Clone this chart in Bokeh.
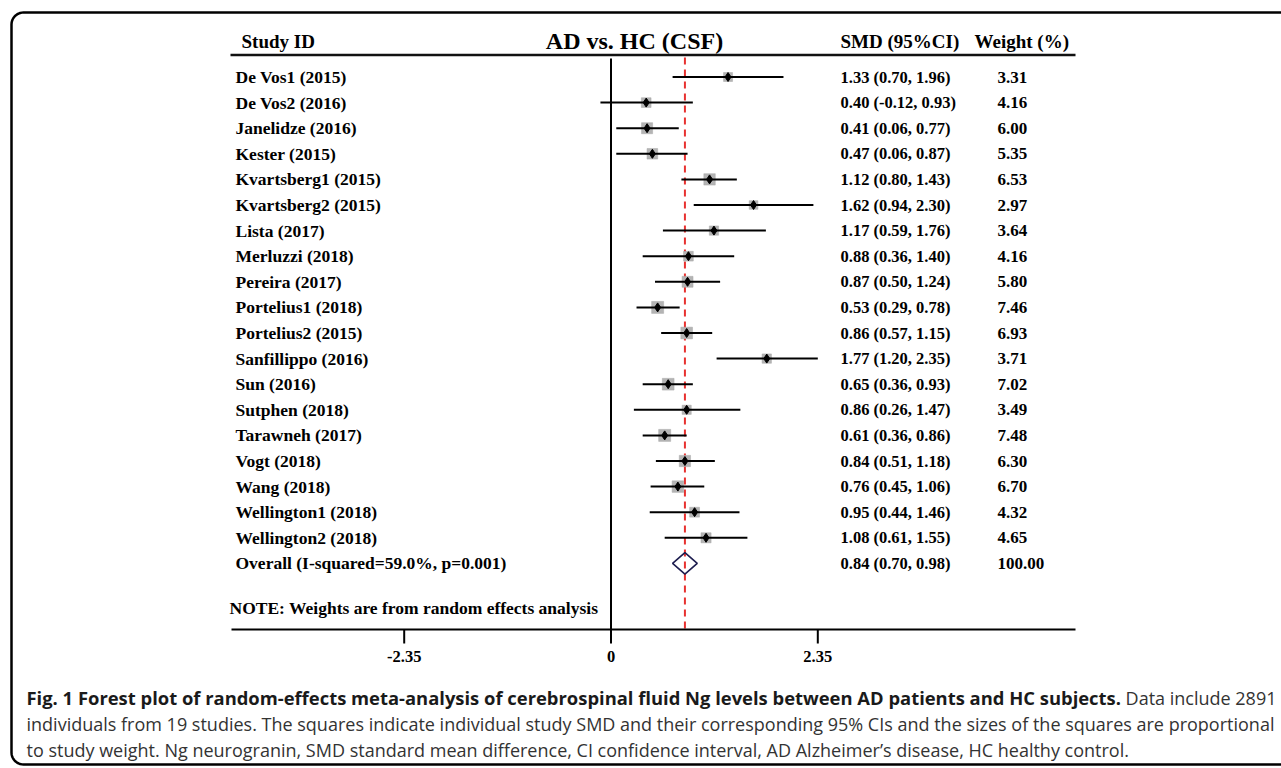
import numpy as np
from bokeh.plotting import figure
from bokeh.models import Range1d, ColumnDataSource
from bokeh.core.properties import value
from bokeh.embed import file_html
from bokeh.resources import INLINE

# ---------------- data ----------------
studies = ["De Vos1 (2015)", "De Vos2 (2016)", "Janelidze (2016)", "Kester (2015)",
           "Kvartsberg1 (2015)", "Kvartsberg2 (2015)", "Lista (2017)", "Merluzzi (2018)",
           "Pereira (2017)", "Portelius1 (2018)", "Portelius2 (2015)", "Sanfillippo (2016)",
           "Sun (2016)", "Sutphen (2018)", "Tarawneh (2017)", "Vogt (2018)", "Wang (2018)",
           "Wellington1 (2018)", "Wellington2 (2018)"]
smd = [1.33, 0.40, 0.41, 0.47, 1.12, 1.62, 1.17, 0.88, 0.87, 0.53, 0.86, 1.77,
       0.65, 0.86, 0.61, 0.84, 0.76, 0.95, 1.08]
ci_low = [0.70, -0.12, 0.06, 0.06, 0.80, 0.94, 0.59, 0.36, 0.50, 0.29, 0.57, 1.20,
          0.36, 0.26, 0.36, 0.51, 0.45, 0.44, 0.61]
ci_high = [1.96, 0.93, 0.77, 0.87, 1.43, 2.30, 1.76, 1.40, 1.24, 0.78, 1.15, 2.35,
           0.93, 1.47, 0.86, 1.18, 1.06, 1.46, 1.55]
weights = [3.31, 4.16, 6.00, 5.35, 6.53, 2.97, 3.64, 4.16, 5.80, 7.46, 6.93, 3.71,
           7.02, 3.49, 7.48, 6.30, 6.70, 4.32, 4.65]

overall_label = "Overall (I-squared=59.0%, p=0.001)"
overall_smd = 0.84
overall_low = 0.70
overall_high = 0.98
overall_weight = 100.00

tick_values = [-2.35, 0.0, 2.35]
tick_labels = ["-2.35", "0", "2.35"]

title = "AD vs. HC (CSF)"
head_study = "Study ID"
head_smd = "SMD (95%CI)"
head_weight = "Weight (%)"
note = "NOTE: Weights are from random effects analysis"
caption_bold = ("Fig. 1 Forest plot of random-effects meta-analysis of cerebrospinal fluid "
                "Ng levels between AD patients and HC subjects.")
caption_rest = "Data include 2891"
caption_line2 = ("individuals from 19 studies. The squares indicate individual study SMD and their "
                 "corresponding 95% CIs and the sizes of the squares are proportional")
caption_line3 = ("to study weight. Ng neurogranin, SMD standard mean difference, CI confidence "
                 "interval, AD Alzheimer\u2019s disease, HC healthy control.")

# ---------------- layout helpers (page pixel -> data units) ----------------
W, H = 1281, 768
X0, KX = 610.5, 88.0     # page x of SMD=0, pixels per SMD unit
Y0, KY = 76.5, 25.6      # page y of first row, pixels per row


def X(px):
    return (px - X0) / KX


def Y(py):
    return (py - Y0) / KY


p = figure(width=W, height=H, x_range=Range1d(X(0), X(W)),
           y_range=Range1d(Y(H), Y(0)), x_axis_type=None, y_axis_type=None,
           toolbar_location=None, output_backend="svg", min_border=0,
           outline_line_color=None, background_fill_color="white")
p.grid.visible = False

SERIF = value("Liberation Serif")
SANS = value("Open Sans")

# rounded outer frame (right side runs off the page)
R = 12.0
L, T, B, RR = 11.0, 12.0, 764.0, 1330.0
a = np.linspace(np.pi / 2, 0, 12)
top_left = [(L + R - R * np.cos(t), T + R - R * np.sin(t)) for t in a]
a2 = np.linspace(0, np.pi / 2, 12)
bot_left = [(L + R - R * np.cos(t), B - R + R * np.sin(t)) for t in a2]
pts = [(RR, T)] + top_left + bot_left + [(RR, B)]
p.line([X(q[0]) for q in pts], [Y(q[1]) for q in pts], line_color="black",
       line_width=2.5, line_join="round")

rows = np.arange(len(studies))
overall_row = len(studies)

src = ColumnDataSource(dict(
    y=rows, smd=smd, lo=ci_low, hi=ci_high, w=weights,
    size=3.0 + 3.3 * np.sqrt(np.array(weights)),
    label=studies,
    ci_text=[f"{s:.2f} ({l:.2f}, {h:.2f})" for s, l, h in zip(smd, ci_low, ci_high)],
    w_text=[f"{w:.2f}" for w in weights],
))

# header
p.text(x=[X(241)], y=[Y(41)], text=[head_study], text_font=SERIF, text_font_style="bold",
       text_font_size="19px", text_baseline="middle", text_color="black")
p.text(x=[X(634)], y=[Y(40)], text=[title], text_font=SERIF, text_font_style="bold",
       text_font_size="24px", text_baseline="middle", text_align="center", text_color="black")
p.text(x=[X(840)], y=[Y(41)], text=[head_smd], text_font=SERIF, text_font_style="bold",
       text_font_size="19px", text_baseline="middle", text_color="black")
p.text(x=[X(974)], y=[Y(41)], text=[head_weight], text_font=SERIF, text_font_style="bold",
       text_font_size="19px", text_baseline="middle", text_color="black")
p.segment(x0=[X(230)], y0=[Y(54.5)], x1=[X(1075)], y1=[Y(54.5)], line_color="#111111",
          line_width=2.5)

# zero line and overall line
p.segment(x0=[0], y0=[Y(58)], x1=[0], y1=[Y(629)], line_color="black", line_width=2)
p.segment(x0=[overall_smd], y0=[Y(57)], x1=[overall_smd], y1=[Y(629)],
          line_color="#e8312f", line_width=2, line_dash="7 5")

# study rows
p.scatter(x="smd", y="y", size="size", marker="square", source=src,
          fill_color="#b4b4b4", line_color="#a8a8a8", line_width=0.5)
p.segment(x0="lo", y0="y", x1="hi", y1="y", source=src, line_color="black", line_width=2)
p.scatter(x="smd", y="y", size=9, marker="diamond", source=src,
          fill_color="black", line_color="black")

# overall diamond
p.patch([overall_low, overall_smd, overall_high, overall_smd],
        [overall_row, overall_row - 0.42, overall_row, overall_row + 0.42],
        fill_color=None, line_color="#1d1d4f", line_width=1.6)

# text columns
p.text(x=X(235), y="y", text="label", source=src, text_font=SERIF, text_font_style="bold",
       text_font_size="17.5px", text_baseline="middle", text_color="black")
p.text(x=X(840), y="y", text="ci_text", source=src, text_font=SERIF, text_font_style="bold",
       text_font_size="16.5px", text_baseline="middle", text_color="black")
p.text(x=X(997), y="y", text="w_text", source=src, text_font=SERIF, text_font_style="bold",
       text_font_size="17px", text_baseline="middle", text_color="black")

p.text(x=[X(235)], y=[overall_row], text=[overall_label], text_font=SERIF,
       text_font_style="bold", text_font_size="17.5px", text_baseline="middle")
p.text(x=[X(840)], y=[overall_row],
       text=[f"{overall_smd:.2f} ({overall_low:.2f}, {overall_high:.2f})"], text_font=SERIF,
       text_font_style="bold", text_font_size="16.5px", text_baseline="middle")
p.text(x=[X(997)], y=[overall_row], text=[f"{overall_weight:.2f}"], text_font=SERIF,
       text_font_style="bold", text_font_size="17px", text_baseline="middle")

p.text(x=[X(229)], y=[Y(607)], text=[note], text_font=SERIF, text_font_style="bold",
       text_font_size="17.5px", text_baseline="middle")

# x axis (drawn at the data scale)
p.segment(x0=[X(231)], y0=[Y(629)], x1=[X(1075)], y1=[Y(629)], line_color="black",
          line_width=2)
p.segment(x0=tick_values, y0=[Y(629)] * 3, x1=tick_values, y1=[Y(643)] * 3,
          line_color="black", line_width=2)
p.text(x=tick_values, y=[Y(656)] * 3, text=tick_labels, text_font=SERIF,
       text_font_style="bold", text_font_size="16.5px", text_baseline="middle",
       text_align="center")

# caption
p.text(x=[X(26)], y=[Y(697)], text=[caption_bold], text_font=SANS, text_font_style="bold",
       text_font_size="18.4px", text_baseline="middle", text_color="#1a1a1a")
p.text(x=[X(1276)], y=[Y(697)], text=[caption_rest], text_font=SANS,
       text_font_size="18px", text_baseline="middle", text_align="right",
       text_color="#333333")
p.text(x=[X(26)], y=[Y(723)], text=[caption_line2], text_font=SANS,
       text_font_size="18px", text_baseline="middle", text_color="#333333")
p.text(x=[X(26)], y=[Y(749)], text=[caption_line3], text_font=SANS,
       text_font_size="18px", text_baseline="middle", text_color="#333333")

open("out.html", "w").write(file_html(p, INLINE))
